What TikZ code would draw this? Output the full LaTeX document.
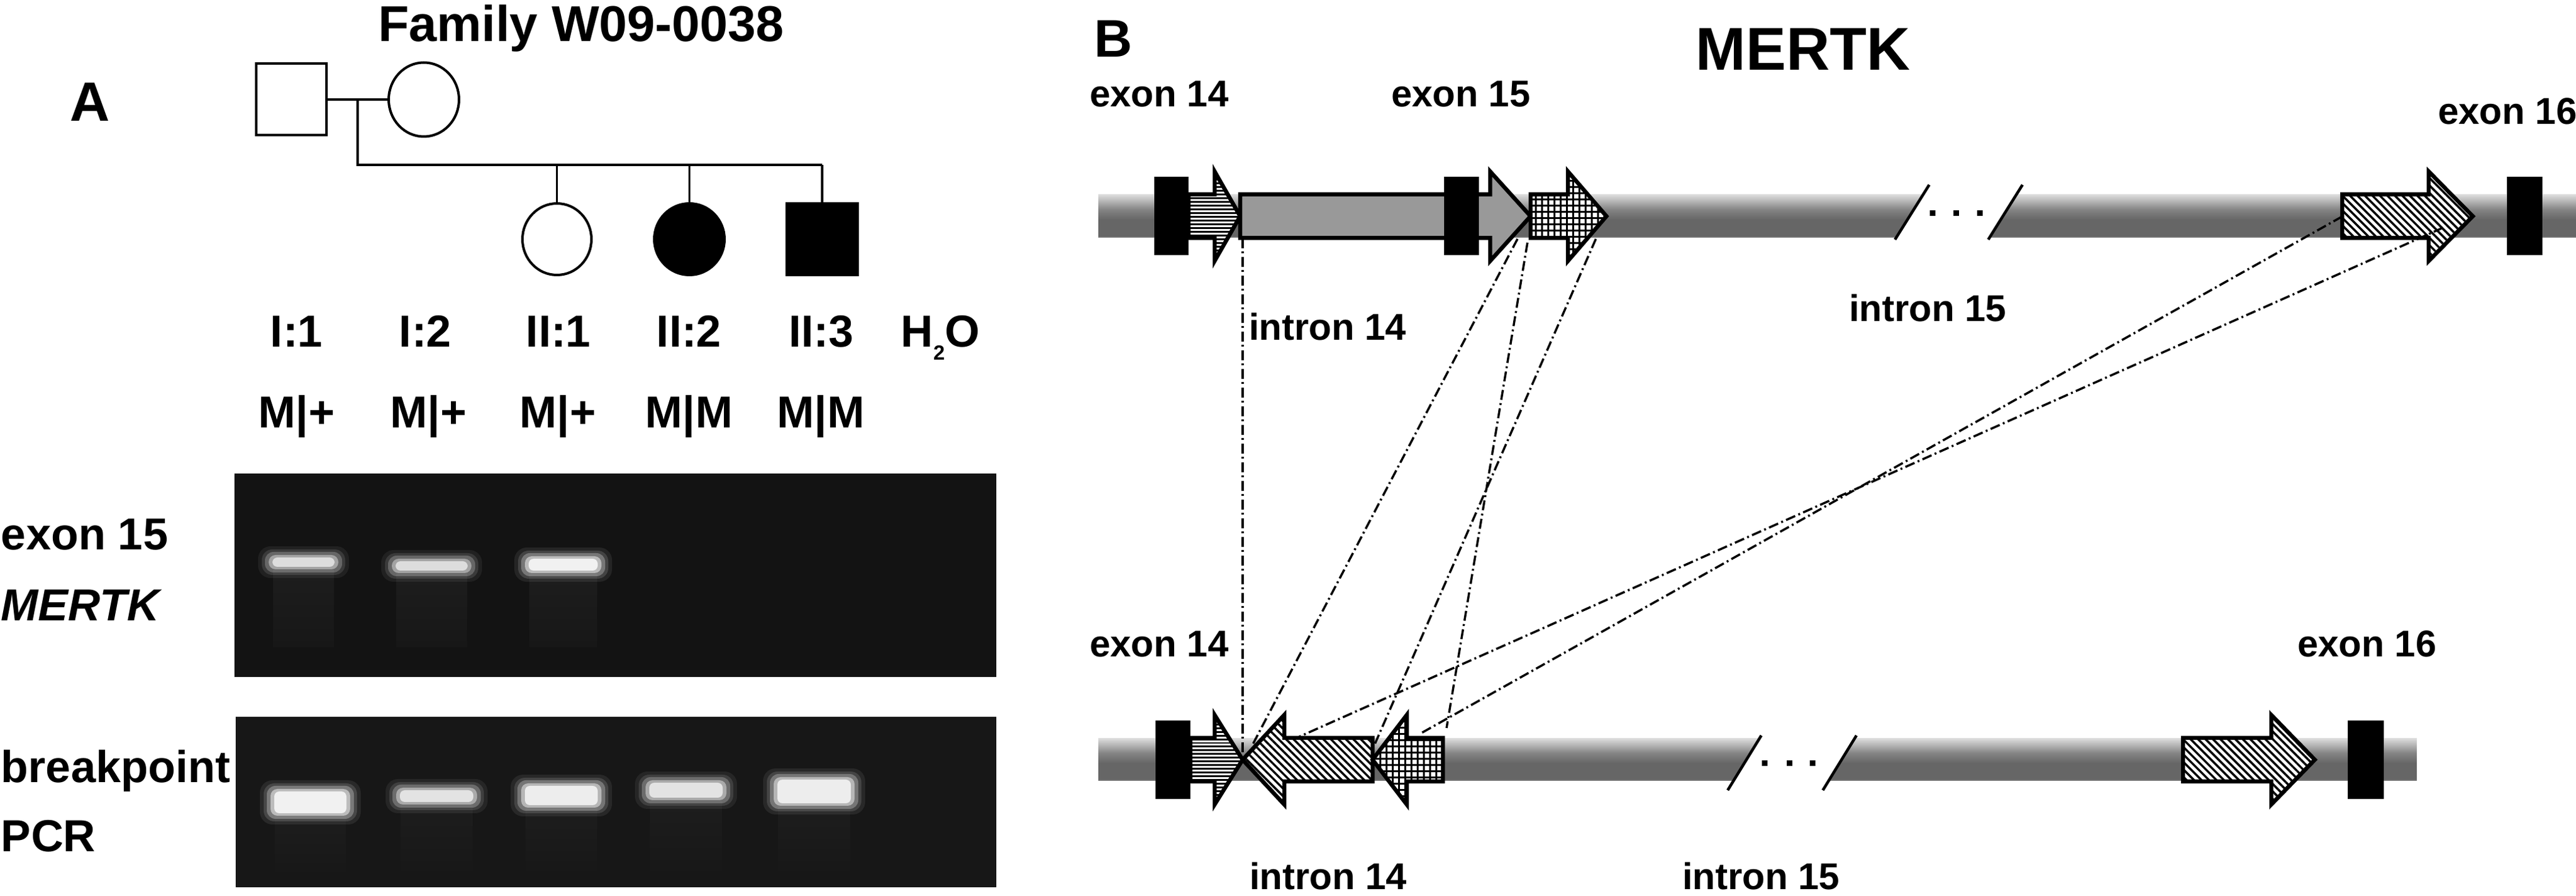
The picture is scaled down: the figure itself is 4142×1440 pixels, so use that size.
\documentclass[tikz,border=0pt]{standalone}
\usepackage{fontspec}
\setmainfont{Liberation Sans}
\usetikzlibrary{patterns.meta,shapes.geometric}
\definecolor{btop}{gray}{0.86}
\definecolor{blight}{gray}{0.72}
\definecolor{bmid}{gray}{0.52}
\definecolor{bdark}{gray}{0.40}
\definecolor{bbot}{gray}{0.55}
\definecolor{boxgray}{gray}{0.60}
\definecolor{gelA}{gray}{0.075}
\definecolor{gelB}{gray}{0.09}
\definecolor{smear}{gray}{0.115}
\pgfdeclareverticalshading{barshade}{100bp}{color(0bp)=(bbot); color(25bp)=(bbot); color(27bp)=(bdark); color(46bp)=(bdark); color(58bp)=(bmid); color(68bp)=(blight); color(75bp)=(btop); color(100bp)=(btop)}
\tikzset{
  lab/.style={font=\fontsize{7.2}{8}\selectfont\bfseries, inner sep=0pt},
  blab/.style={font=\fontsize{6.0}{7}\selectfont\bfseries, inner sep=0pt, anchor=base west},
  ped/.style={draw=black, line width=0.4pt, inner sep=0pt},
  pedline/.style={line width=0.35pt},
  arr/.style={draw=black, line width=0.65pt, line join=miter},
  stripeH/.style={arr, preaction={fill=white}, pattern={Lines[angle=0,distance=0.6pt,line width=0.3pt]}},
  stripeD/.style={arr, preaction={fill=white}, pattern={Lines[angle=-45,distance=0.85pt,line width=0.35pt]}},
  gridfill/.style={arr, preaction={fill=white}, pattern={Hatch[angle=0,distance=1.0pt,line width=0.3pt]}},
  grayfill/.style={arr, fill=boxgray},
  dd/.style={line width=0.35pt, dash pattern=on 1.6pt off 0.55pt on 0.3pt off 0.55pt},
}
% arrow polygon: body from #1 to head base #2, tip #3, centre line #4
\newcommand\genearr[5]{%
  \draw[#5] (#1,#4-35) -- (#2,#4-35) -- (#2,#4-72) -- (#3,#4) -- (#2,#4+72) -- (#2,#4+35) -- (#1,#4+35) -- cycle;}
\newcommand\exonbox[3]{\fill[black] (#1,#3-63) rectangle (#2,#3+63);}
% blurred band: x1 y1 x2 y2 intensity, bottom of smear #6
\newcommand\gelband[6]{%
  \pgfmathsetmacro\bandA{0.08*#5}\pgfmathsetmacro\bandB{0.14*#5}\pgfmathsetmacro\bandC{0.28*#5}%
  \pgfmathsetmacro\bandD{0.50*#5}\pgfmathsetmacro\bandE{0.80*#5}%
  \shade[top color=smear, bottom color=gelB] (#1+10,#4) rectangle (#3-10,#6);
  \fill[white,opacity=\bandA,rounded corners=2pt] (#1-14,#2-12) rectangle (#3+14,#4+12);
  \fill[white,opacity=\bandB,rounded corners=1.7pt] (#1-8,#2-7) rectangle (#3+8,#4+7);
  \fill[white,opacity=\bandC,rounded corners=1.4pt] (#1-3,#2-3) rectangle (#3+3,#4+3);
  \fill[white,opacity=\bandD,rounded corners=1.1pt] (#1+3,#2+2) rectangle (#3-3,#4-2);
  \fill[white,opacity=\bandE,rounded corners=0.8pt] (#1+9,#2+6) rectangle (#3-9,#4-6);}
\begin{document}
\begin{tikzpicture}[x=0.1pt,y=-0.1pt]
\fill[white] (0,0) rectangle (4142,1440);
\useasboundingbox (0,0) rectangle (4142,1440);

% ---------------- Panel A ----------------
\node[lab, font=\fontsize{8.1}{9}\selectfont\bfseries, anchor=base west] (fam) at (606,67) {Family W09-0038};
\node[lab, font=\fontsize{8.9}{9}\selectfont\bfseries, anchor=base west] (pA) at (110,195) {A};

% pedigree
\node[ped, rectangle, minimum width=11.3pt, minimum height=11.5pt] (i1) at (468.5,160) {};
\node[ped, ellipse, minimum width=11.3pt, minimum height=11.9pt] (i2) at (681.5,160) {};
\node[ped, ellipse, minimum width=11.1pt, minimum height=11.5pt] (ii1) at (895.5,384.5) {};
\node[ped, ellipse, fill=black, minimum width=11.3pt, minimum height=11.5pt] (ii2) at (1108.5,384.5) {};
\node[ped, rectangle, fill=black, minimum width=11.4pt, minimum height=11.5pt] (ii3) at (1322,384.5) {};
\coordinate (mar) at (575,160);
\coordinate (sib) at (575,265);
\draw[pedline] (i1.east) -- (i2.west);
\draw[pedline] (mar) -- (sib) -- (ii3.north |- sib);
\draw[pedline] (ii1.north |- sib) -- (ii1.north);
\draw[pedline] (ii2.north |- sib) -- (ii2.north);
\draw[pedline] (ii3.north |- sib) -- (ii3.north);

% lane labels
\node[lab, anchor=base] (l1) at (477,558) {I:1};
\node[lab, anchor=base] (l2) at (684,558) {I:2};
\node[lab, anchor=base] (l3) at (898,558) {II:1};
\node[lab, anchor=base] (l4) at (1108,558) {II:2};
\node[lab, anchor=base] (l5) at (1320,558) {II:3};
\node[lab, anchor=base] (l6) at (1512,558) {H\raisebox{-2.1pt}{\fontsize{3.3}{4}\selectfont\bfseries 2}O};
\node[lab, anchor=base] (g1) at (477,688) {M|+};
\node[lab, anchor=base] (g2) at (689,688) {M|+};
\node[lab, anchor=base] (g3) at (897,688) {M|+};
\node[lab, anchor=base] (g4) at (1108,688) {M|M};
\node[lab, anchor=base] (g5) at (1320,688) {M|M};

% gel labels
\node[lab, anchor=base west] (ge1) at (0,884) {exon 15};
\node[lab, anchor=base west] (ge2) at (0,998) {\itshape MERTK};
\node[lab, anchor=base west] (ge3) at (0,1257) {breakpoint};
\node[lab, anchor=base west] (ge4) at (0,1368) {PCR};

% gels
\fill[gelA] (377,761) rectangle (1602,1088);
\fill[gelB] (379,1152) rectangle (1602,1426);
\gelband{429}{890}{547}{917}{0.8}{1040}
\gelband{627}{896}{761}{923}{0.8}{1040}
\gelband{841}{892}{970}{923}{1.0}{1040}
\gelband{432}{1266}{566}{1313}{1.0}{1410}
\gelband{634}{1264}{770}{1295}{0.85}{1410}
\gelband{835}{1257}{970}{1300}{0.95}{1410}
\gelband{1035}{1252}{1171}{1288}{0.85}{1410}
\gelband{1241}{1247}{1377}{1297}{0.95}{1410}

% ---------------- Panel B ----------------
\node[lab, font=\fontsize{8.5}{9}\selectfont\bfseries, anchor=base west] (pB) at (1757,92) {B};
\node[lab, font=\fontsize{9.7}{10}\selectfont\bfseries, anchor=base] (mertk) at (2899,113) {MERTK};
\node[blab] (te14) at (1750,172) {exon 14};
\node[blab] (te15) at (2235,172) {exon 15};
\node[blab] (te16) at (3918,200) {exon 16};
\node[blab] (ti14) at (2006,547) {intron 14};
\node[blab] (ti15) at (2971,517) {intron 15};
\node[blab] (be14) at (1750,1055) {exon 14};
\node[blab] (be16) at (3692,1055) {exon 16};
\node[blab] (bi14) at (2007,1430) {intron 14};
\node[blab] (bi15) at (2703,1430) {intron 15};

% top gene bar
\shade[shading=barshade] (1766,313) rectangle (4142,382);
\fill[white] (3092,311) -- (3242,311) -- (3198,385) -- (3047,385) -- cycle;
\draw[line width=0.45pt] (3102,297) -- (3047,385);
\draw[line width=0.45pt] (3252,297) -- (3197,385);
\foreach \dx in {3107,3145,3183} \fill (\dx-4.5,338.5) rectangle (\dx+4.5,347.5);

\genearr{1911}{1953}{1994}{347.5}{stripeH}
\genearr{1994}{2396}{2461}{347.5}{grayfill}
\genearr{2461}{2521}{2583}{347.5}{gridfill}
\genearr{3766}{3905}{3976}{347.5}{stripeD}
\exonbox{1856}{1911}{347.5}
\exonbox{2322}{2378}{347.5}
\exonbox{4031}{4088}{347.5}

% bottom gene bar
\shade[shading=barshade] (1766,1187) rectangle (3886,1255);
\fill[white] (2829,1185) -- (2982,1185) -- (2941,1257) -- (2788,1257) -- cycle;
\draw[line width=0.45pt] (2832,1182) -- (2778,1270);
\draw[line width=0.45pt] (2985,1182) -- (2931,1270);
\foreach \dx in {2837,2877,2914} \fill (\dx-4.5,1222.5) rectangle (\dx+4.5,1231.5);

\genearr{1914}{1953}{1998}{1221}{stripeH}
\genearr{2207}{2065}{1998}{1221}{stripeD}
\genearr{2320}{2262}{2207}{1221}{gridfill}
\genearr{3510}{3652}{3722}{1221}{stripeD}
\exonbox{1858}{1914}{1221}
\exonbox{3775}{3833}{1221}

% breakpoint connectors
\coordinate (t0) at (1998,383);   \coordinate (b0) at (1998,1212);
\coordinate (t1) at (2440,384);   \coordinate (b1) at (2015,1195);
\coordinate (t2) at (2456,390);   \coordinate (b2) at (2326,1170);
\coordinate (t3) at (2566,384);   \coordinate (b3) at (2211,1195);
\coordinate (tA) at (3766,348);   \coordinate (bA) at (2282,1180);
\coordinate (tB) at (3928,366);   \coordinate (bB) at (2089,1184);
\foreach \p in {0,1,2,3,A,B} \draw[dd] (t\p) -- (b\p);
\end{tikzpicture}
\end{document}
